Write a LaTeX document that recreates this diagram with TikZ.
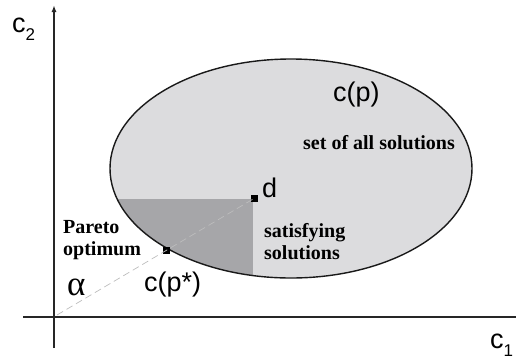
\documentclass[tikz,border=0pt]{standalone}
\usepackage{fontspec}
\setmainfont{Liberation Sans}
\newfontfamily\labelserif{Liberation Serif}
\usetikzlibrary{arrows.meta}
\definecolor{setgray}{HTML}{DCDCDE}
\definecolor{satgray}{HTML}{A6A6A9}
\definecolor{rayray}{HTML}{BDBDBD}
\tikzset{
  axis/.style={line width=1.8pt, black!85},
  rim/.style={line width=1.4pt, black!90},
  marker/.style={rectangle, fill=black, minimum size=7pt, inner sep=0pt},
  bigsans/.style={font=\fontsize{27}{27}\selectfont, inner sep=0pt},
  boldserif/.style={font=\labelserif\bfseries\fontsize{20}{22}\selectfont, inner sep=0pt, align=left},
  greek/.style={font=\labelserif\fontsize{35}{35}\selectfont, inner sep=0pt},
}
\newcommand{\axsub}[1]{\raisebox{-0.33em}{\fontsize{17}{17}\selectfont #1}}
\begin{document}
\begin{tikzpicture}[x=1pt, y=-1pt]
  \useasboundingbox (0,0) rectangle (516,360);

  % axes
  \coordinate (xstart) at (23,317);
  \coordinate (xend) at (516,317);
  \coordinate (ystart) at (54,348);
  \coordinate (yend) at (54,5);
  \draw[axis] (xstart) -- (xend);
  \draw[axis, -{Latex[length=7pt, width=5pt]}] (ystart) -- (yend);

  % set of all solutions and the satisfying part
  \fill[setgray] (291,168.5) ellipse [x radius=181, y radius=109.5];
  \begin{scope}
    \clip (291,168.5) ellipse [x radius=181, y radius=109.5];
    \fill[satgray] (100,199) rectangle (253,290);
  \end{scope}
  \draw[rim] (291,168.5) ellipse [x radius=181, y radius=109.5];

  % reference point, Pareto optimum and ray
  \coordinate (o) at (57,315);
  \node[marker] (d) at (254,198.5) {};
  \node[marker] (pstar) at (166.5,250.5) {};
  \draw[rayray, line width=0.7pt, dash pattern=on 7pt off 4pt] (o) -- (d.center);

  % labels (two-line labels are placed by the baseline of their last line)
  \node[bigsans, anchor=base west] (c2) at (12,32) {c\axsub{2}};
  \node[bigsans, anchor=base west] (c1) at (490,348) {c\axsub{1}};
  \node[bigsans, anchor=base west] (cp) at (333,101) {c(p)};
  \node[bigsans, anchor=base west] (dl) at (262,197) {d};
  \node[bigsans, anchor=base west] (cps) at (144,291) {c(p*)};
  \node[boldserif, anchor=base west] (all) at (303,149) {set of all solutions};
  \node[boldserif, anchor=base west] (pareto) at (63,255) {Pareto\\optimum};
  \node[boldserif, anchor=base west] (sat) at (264,259) {satisfying\\solutions};
  \node[greek, anchor=base west] (alpha) at (67,295) {α};
\end{tikzpicture}
\end{document}
